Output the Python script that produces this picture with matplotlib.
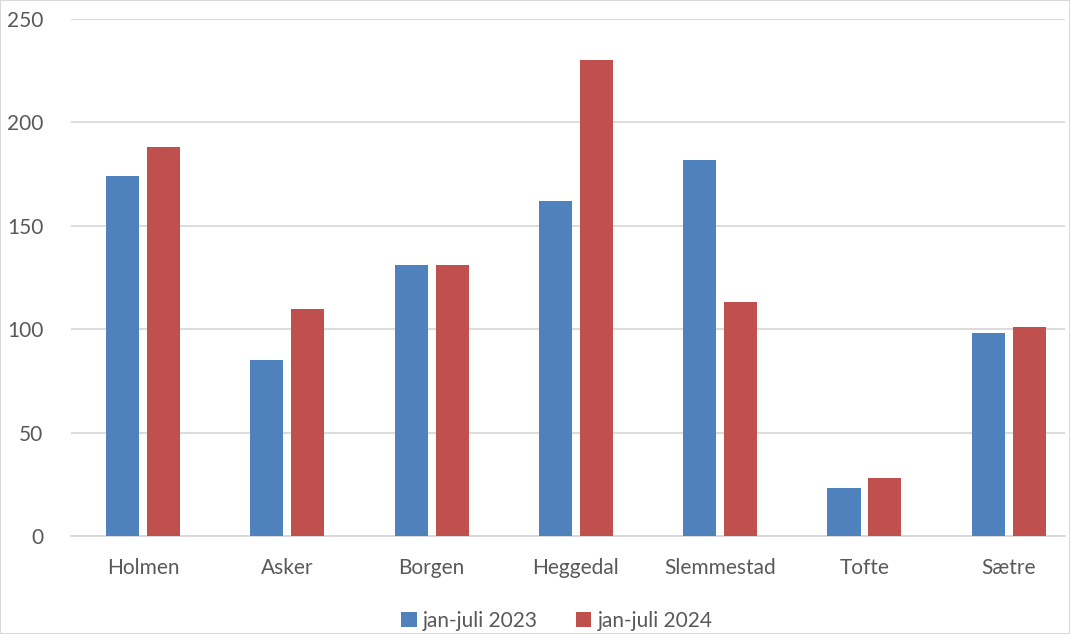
import numpy as np
import matplotlib.pyplot as plt
from matplotlib.patches import Rectangle

steder = ['Holmen', 'Asker', 'Borgen', 'Heggedal', 'Slemmestad', 'Tofte', 'Sætre']
v2023 = [174, 85, 131, 162, 182, 23, 98]
v2024 = [188, 110, 131, 230, 113, 28, 101]
serier = ['jan-juli 2023', 'jan-juli 2024']
yticks = [0, 50, 100, 150, 200, 250]

plt.rcParams['font.family'] = ['Lato', 'DejaVu Sans']
txt = '#595959'

fig = plt.figure(figsize=(10.7, 6.34), dpi=100)
ax = fig.add_axes([71/1070, 1-536/634, (1065-71)/1070, (536-19)/634])

x = np.arange(len(steder))
w = 0.229
ax.bar(x-0.142, v2023, w, color='#4F81BD', label=serier[0], zorder=3)
ax.bar(x+0.142, v2024, w, color='#C0504D', label=serier[1], zorder=3)

ax.set_xlim(-0.5, 6.39)
ax.set_ylim(0, 250)
ax.set_yticks(yticks)
ax.set_xticks(x)
ax.set_xticklabels(steder)
ax.grid(True, axis='y', color='#D9D9D9', lw=1.3, zorder=0)
for s in ['top', 'right', 'left']:
    ax.spines[s].set_visible(False)
ax.spines['bottom'].set_color('#D9D9D9')
ax.spines['bottom'].set_linewidth(1.3)
ax.tick_params(length=0, labelsize=15, labelcolor=txt)
ax.tick_params(axis='y', pad=20)
ax.tick_params(axis='x', pad=16)

fig.legend(loc='center', bbox_to_anchor=(557/1070, 1-621/634), ncol=2, frameon=False,
           fontsize=15, labelcolor=txt, handlelength=0.75, handleheight=0.75,
           handletextpad=0.3, columnspacing=1.8)

fig.add_artist(Rectangle((0, 0), 1, 1, transform=fig.transFigure, fill=False,
                         edgecolor='#D9D9D9', lw=1.5))

fig.savefig('out.png', dpi=100)
